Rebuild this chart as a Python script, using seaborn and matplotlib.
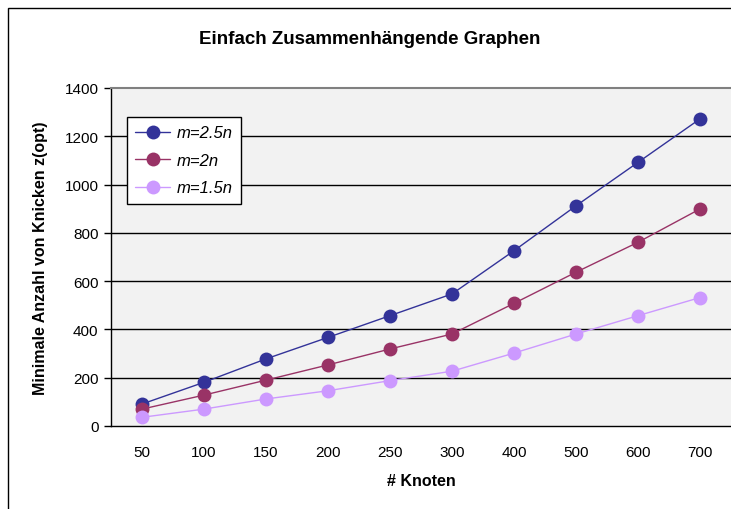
import numpy as np
import pandas as pd
import matplotlib
matplotlib.use("Agg")
import matplotlib.pyplot as plt
import matplotlib.patches as mpatches
import seaborn as sns

# ─── Daten ──────────────────────────────────────────────────────────────────
knoten = ["50", "100", "150", "200", "250", "300", "400", "500", "600", "700"]
m_25n = [91, 181, 278, 367, 457, 547, 726, 912, 1092, 1272]
m_2n = [70, 128, 190, 253, 319, 381, 508, 637, 761, 899]
m_15n = [36, 70, 112, 146, 188, 227, 302, 381, 457, 532]
series_names = ["m=2.5n", "m=2n", "m=1.5n"]
colors = ["#333399", "#993366", "#CC99FF"]
y_ticks = [0, 200, 400, 600, 800, 1000, 1200, 1400]

pos = np.arange(len(knoten))
df = pd.DataFrame({
    "pos": np.tile(pos, 3),
    "wert": m_25n + m_2n + m_15n,
    "serie": np.repeat(series_names, len(knoten)),
})

sns.set_style("white")
plt.rcParams["font.family"] = ["Liberation Sans", "DejaVu Sans"]
plt.rcParams["text.color"] = "black"
plt.rcParams["axes.labelcolor"] = "black"
plt.rcParams["xtick.color"] = "black"
plt.rcParams["ytick.color"] = "black"

fig = plt.figure(figsize=(7.31, 5.10), dpi=100)
ax = fig.add_axes([111 / 731, 1 - 427 / 510, 1 - 111 / 731, (427 - 89) / 510])
ax.set_facecolor("#F2F2F2")

for y in y_ticks[1:-1]:
    ax.axhline(y, color="black", linewidth=1.0, zorder=1)

sns.lineplot(data=df, x="pos", y="wert", hue="serie", hue_order=series_names,
             palette=colors, marker="o", markersize=10, markeredgewidth=0,
             linewidth=1.0, ax=ax, zorder=3)

ax.set_xlim(-0.5, len(knoten) - 0.5)
ax.set_ylim(0, 1400)
ax.set_yticks(y_ticks)
ax.set_yticklabels([str(v) for v in y_ticks], fontsize=11)
ax.set_xticks(pos)
ax.set_xticklabels(knoten, fontsize=11)
ax.set_xticks(np.arange(-0.5, len(knoten) + 0.5, 1), minor=True)
ax.tick_params(axis="x", which="major", length=0, pad=14)
ax.tick_params(axis="x", which="minor", length=5, width=1, color="black", direction="out")
ax.tick_params(axis="y", length=5, width=1, color="black", direction="out", left=True, pad=4)

for side in ["left", "bottom"]:
    ax.spines[side].set_color("black")
    ax.spines[side].set_linewidth(1.0)
ax.spines["top"].set_color("#808080")
ax.spines["top"].set_linewidth(1.5)
ax.spines["right"].set_visible(False)

ax.set_xlabel("# Knoten", fontsize=11.5, fontweight="bold", labelpad=10)
ax.set_ylabel("Minimale Anzahl von Knicken z(opt)", fontsize=11.5, fontweight="bold", labelpad=12)

leg = ax.legend(loc="upper left", bbox_to_anchor=(0.026, 0.914), borderaxespad=0,
                frameon=True, fancybox=False, edgecolor="black", framealpha=1.0,
                prop={"style": "italic", "size": 12}, handlelength=2.1,
                borderpad=0.5, labelspacing=0.75, handletextpad=0.4)
leg.get_frame().set_linewidth(1.0)

fig.text(0.506, 1 - 40 / 510, "Einfach Zusammenhängende Graphen", ha="center",
         va="center", fontsize=13.5, fontweight="bold")

# Rahmen um das Diagramm
rahmen = mpatches.Rectangle((8 / 731, -0.05), 1.0, 1 - 9 / 510 + 0.05,
                            transform=fig.transFigure, fill=False,
                            edgecolor="black", linewidth=1.0)
fig.patches.append(rahmen)

fig.savefig("out.png", dpi=100)
